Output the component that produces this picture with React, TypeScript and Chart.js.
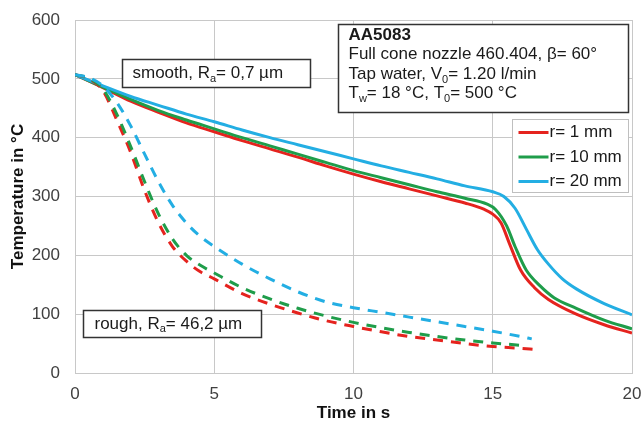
import React, { useEffect, useRef } from "react";
import { Chart, registerables } from "chart.js";

Chart.register(...registerables);

// Axis ticks
const xTickValues = [0, 5, 10, 15, 20];
const yTickValues = [0, 100, 200, 300, 400, 500, 600];

// Smooth surface (solid lines)
const smoothTimeR1 = [0, 1, 2, 3, 4, 5, 6, 7, 8, 9, 10, 11, 12, 13, 14, 14.7, 15, 15.3, 15.6, 16, 16.5, 17, 18, 19, 20];
const smoothTempR1 = [507, 485, 462, 443, 425, 410, 395, 381, 367, 352, 338, 325, 313, 301, 289, 278, 270, 255, 220, 175, 145, 125, 100, 82, 68];
const smoothTimeR10 = [0, 1, 2, 3, 4, 5, 6, 7, 8, 9, 10, 11, 12, 13, 14, 14.8, 15.1, 15.5, 15.8, 16.2, 16.7, 17.2, 18, 19, 20];
const smoothTempR10 = [507, 486, 465, 446, 430, 415, 400, 386, 372, 358, 344, 332, 320, 308, 297, 287, 278, 250, 215, 175, 148, 128, 110, 90, 75];
const smoothTimeR20 = [0, 1, 2, 3, 4, 5, 6, 7, 8, 9, 10, 11, 12, 13, 14, 15, 15.4, 15.8, 16.2, 16.6, 17, 17.5, 18, 19, 20];
const smoothTempR20 = [507, 488, 470, 455, 440, 427, 413, 400, 388, 376, 364, 352, 341, 330, 318, 308, 300, 280, 245, 210, 185, 160, 143, 118, 99];

// Rough surface (dashed lines)
const roughTimeR1 = [0, 0.5, 1, 1.5, 2, 2.5, 3, 3.5, 4, 4.5, 5, 6, 7, 8, 9, 10, 11, 12, 13, 14, 15, 16, 16.5];
const roughTempR1 = [507, 500, 480, 430, 375, 310, 255, 215, 190, 172, 160, 135, 117, 102, 89, 79, 70, 62, 56, 50, 45, 42, 40];
const roughTimeR10 = [0, 0.5, 1, 1.5, 2, 2.5, 3, 3.5, 4, 4.5, 5, 6, 7, 8, 9, 10, 11, 12, 13, 14, 15, 16, 16.2];
const roughTempR10 = [507, 501, 483, 440, 385, 325, 270, 228, 200, 183, 170, 145, 126, 110, 97, 86, 77, 69, 62, 56, 51, 47, 46];
const roughTimeR20 = [0, 0.5, 1, 1.5, 2, 2.5, 3, 3.5, 4, 4.5, 5, 6, 7, 8, 9, 10, 11, 12, 13, 14, 15, 16, 16.4];
const roughTempR20 = [507, 502, 488, 460, 420, 372, 325, 285, 255, 232, 215, 185, 160, 138, 121, 111, 103, 95, 87, 79, 71, 62, 58];

const legendLabels = ["r= 1 mm", "r= 10 mm", "r= 20 mm"];
const seriesColors = ["#e5231e", "#1f9d4a", "#23aee3"];

const toPts = (xs: number[], ys: number[]) => xs.map((x, i) => ({ x, y: ys[i] }));

const FONT = "Arial, 'Liberation Sans', sans-serif";

type Part = { t: string; sub?: boolean; bold?: boolean };

function drawRich(ctx: CanvasRenderingContext2D, x: number, y: number, parts: Part[], size: number) {
  let cx = x;
  for (const p of parts) {
    const s = p.sub ? Math.round(size * 0.62) : size;
    ctx.font = `${p.bold ? "bold " : ""}${s}px ${FONT}`;
    ctx.textBaseline = "middle";
    ctx.textAlign = "left";
    ctx.fillText(p.t, cx, p.sub ? y + size * 0.3 : y);
    cx += ctx.measureText(p.t).width;
  }
}

const annotationPlugin = {
  id: "annots",
  afterDraw(chart: any) {
    const ctx: CanvasRenderingContext2D = chart.ctx;
    const xs = chart.scales.x;
    const ys = chart.scales.y;
    const X = (v: number) => xs.getPixelForValue(v);
    const Y = (v: number) => ys.getPixelForValue(v);
    ctx.save();

    const box = (x0: number, y0: number, x1: number, y1: number, stroke: string, lw: number) => {
      const l = Math.round(X(x0)) + 0.5, r = Math.round(X(x1)) + 0.5;
      const t = Math.round(Y(y0)) + 0.5, b = Math.round(Y(y1)) + 0.5;
      ctx.fillStyle = "#ffffff";
      ctx.fillRect(l, t, r - l, b - t);
      ctx.strokeStyle = stroke;
      ctx.lineWidth = lw;
      ctx.strokeRect(l, t, r - l, b - t);
      return { l, t, r, b };
    };

    // smooth label
    const s = box(1.69, 533, 8.45, 485.5, "#333333", 1.5);
    ctx.fillStyle = "#1a1a1a";
    drawRich(ctx, s.l + 10, (s.t + s.b) / 2, [{ t: "smooth, R" }, { t: "a", sub: true }, { t: "= 0,7 µm" }], 17);

    // rough label
    const r = box(0.29, 107, 6.69, 61, "#333333", 1.5);
    ctx.fillStyle = "#1a1a1a";
    drawRich(ctx, r.l + 11, (r.t + r.b) / 2, [{ t: "rough, R" }, { t: "a", sub: true }, { t: "= 46,2 µm" }], 17);

    // info box
    const inf = box(9.46, 593, 19.86, 443, "#333333", 1.5);
    ctx.fillStyle = "#1a1a1a";
    const lx = inf.l + 10;
    drawRich(ctx, lx, inf.t + 10.5, [{ t: "AA5083", bold: true }], 17);
    drawRich(ctx, lx, inf.t + 30, [{ t: "Full cone nozzle 460.404, β= 60°" }], 17);
    drawRich(ctx, lx, inf.t + 50, [{ t: "Tap water, V" }, { t: "0", sub: true }, { t: "= 1.20 l/min" }], 17);
    drawRich(ctx, lx, inf.t + 69, [{ t: "T" }, { t: "w", sub: true }, { t: "= 18 °C, T" }, { t: "0", sub: true }, { t: "= 500 °C" }], 17);

    // legend box
    const lg = box(15.68, 431, 19.86, 307, "#bfbfbf", 1);
    legendLabels.forEach((lab, i) => {
      const cy = lg.t + 13 + i * 24.5;
      ctx.strokeStyle = seriesColors[i];
      ctx.lineWidth = 3;
      ctx.setLineDash([]);
      ctx.beginPath();
      ctx.moveTo(lg.l + 6, cy);
      ctx.lineTo(lg.l + 36, cy);
      ctx.stroke();
      ctx.fillStyle = "#1a1a1a";
      drawRich(ctx, lg.l + 37, cy, [{ t: lab }], 17);
    });

    ctx.restore();
  },
};

export default function App() {
  const canvasRef = useRef<HTMLCanvasElement | null>(null);

  useEffect(() => {
    const canvas = canvasRef.current;
    if (!canvas) return;
    const solid = [
      toPts(smoothTimeR1, smoothTempR1),
      toPts(smoothTimeR10, smoothTempR10),
      toPts(smoothTimeR20, smoothTempR20),
    ];
    const dashed = [
      toPts(roughTimeR1, roughTempR1),
      toPts(roughTimeR10, roughTempR10),
      toPts(roughTimeR20, roughTempR20),
    ];
    const datasets: any[] = [];
    [2, 1, 0].forEach((i) => {
      datasets.push({
        label: legendLabels[i] + " rough",
        data: dashed[i],
        borderColor: seriesColors[i],
        borderWidth: 3,
        borderDash: [10, 8],
        pointRadius: 0,
        cubicInterpolationMode: "monotone",
        fill: false,
      });
    });
    [2, 1, 0].forEach((i) => {
      datasets.push({
        label: legendLabels[i],
        data: solid[i],
        borderColor: seriesColors[i],
        borderWidth: 3,
        pointRadius: 0,
        cubicInterpolationMode: "monotone",
        fill: false,
      });
    });

    const chart = new Chart(canvas, {
      type: "line",
      data: { datasets },
      options: {
        animation: false,
        responsive: false,
        devicePixelRatio: 1,
        layout: { padding: { left: 0, top: 20, right: 12, bottom: 0 } },
        plugins: { legend: { display: false }, tooltip: { enabled: false } },
        scales: {
          x: {
            type: "linear",
            min: 0,
            max: 20,
            afterBuildTicks: (scale: any) => {
              scale.ticks = xTickValues.map((v) => ({ value: v }));
            },
            afterFit: (scale: any) => {
              scale.height = 49;
              scale.paddingLeft = 0;
              scale.paddingRight = 0;
            },
            grid: { color: "#c8c8c8", lineWidth: 1, drawTicks: false },
            border: { color: "#c8c8c8" },
            ticks: { padding: 11, color: "#404040", font: { family: FONT, size: 17 } },
            title: {
              display: true,
              text: "Time in s",
              color: "#111111",
              font: { family: FONT, size: 17, weight: "bold", lineHeight: 1 },
              padding: { top: 0, bottom: 0 },
            },
          },
          y: {
            type: "linear",
            min: 0,
            max: 600,
            afterBuildTicks: (scale: any) => {
              scale.ticks = yTickValues.map((v) => ({ value: v }));
            },
            afterFit: (scale: any) => {
              scale.width = 75;
              scale.paddingTop = 0;
              scale.paddingBottom = 0;
            },
            grid: { color: "#c8c8c8", lineWidth: 1, drawTicks: false },
            border: { color: "#c8c8c8" },
            ticks: { padding: 15, color: "#404040", font: { family: FONT, size: 17 } },
            title: {
              display: true,
              text: "Temperature in °C",
              color: "#111111",
              font: { family: FONT, size: 17, weight: "bold", lineHeight: 1 },
              padding: { top: 9.5, bottom: 0 },
            },
          },
        },
      } as any,
      plugins: [annotationPlugin],
    });
    return () => chart.destroy();
  }, []);

  return (
    <div style={{ position: "absolute", left: 0, top: 0, width: 644, height: 422, background: "#ffffff" }}>
      <canvas ref={canvasRef} width={644} height={422} style={{ display: "block", width: 644, height: 422 }} />
    </div>
  );
}
